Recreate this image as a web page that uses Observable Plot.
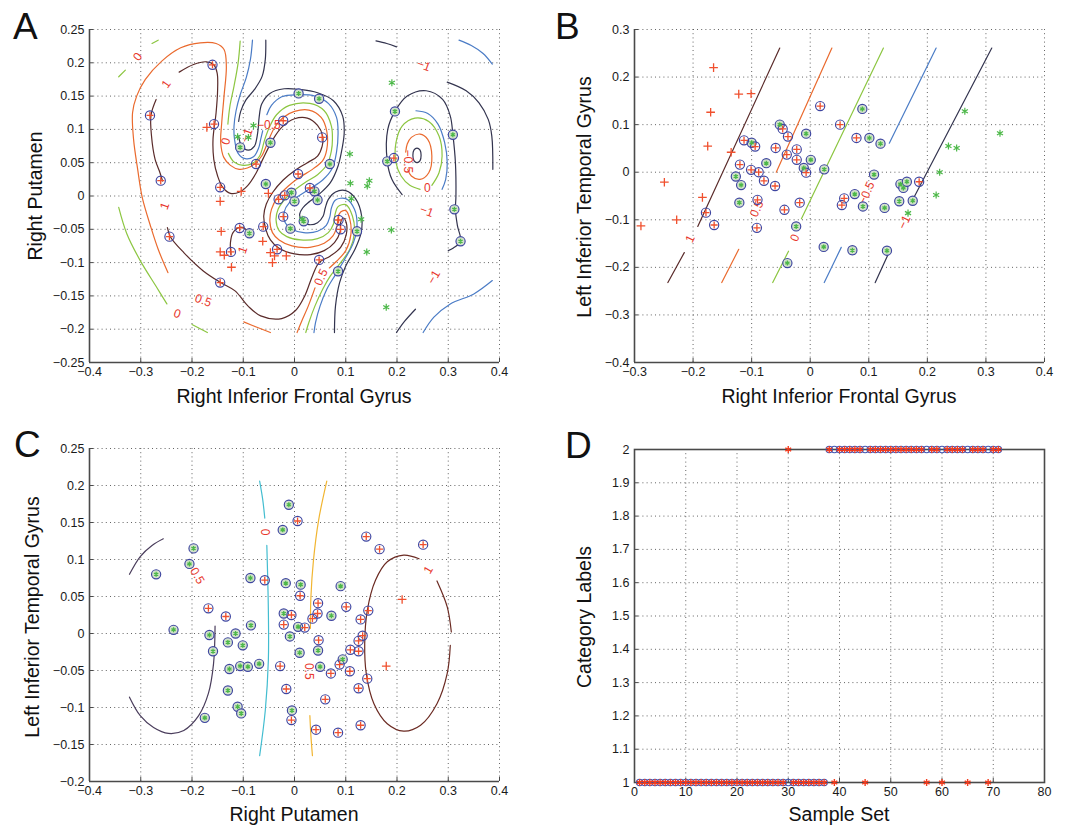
<!DOCTYPE html>
<html><head><meta charset="utf-8">
<script src="https://cdn.jsdelivr.net/npm/d3@7"></script>
<script src="https://cdn.jsdelivr.net/npm/@observablehq/plot@0.6"></script>
<style>
body{margin:0;background:#fff;}
#wrap{position:relative;width:1079px;height:826px;background:#fff;overflow:hidden;font-family:"Liberation Sans",Arial,Helvetica,sans-serif;color:#111;}
.panel{position:absolute;}
.letter{position:absolute;font-size:37px;line-height:1;}
.title{position:absolute;font-size:19.5px;line-height:1;white-space:nowrap;transform:translate(-50%,-50%);}
.ytitle{position:absolute;font-size:19.5px;line-height:1;white-space:nowrap;transform:translate(-50%,-50%) rotate(-90deg);}
</style></head>
<body><div id="wrap"></div>
<script>
// ---------- Colours ----------
const COL = {brown:"#5a2b2a", orange:"#ea6a2e", green:"#8cc641", blue:"#4b7cc6", navy:"#33344f",
  cyan:"#43bdd0", gold:"#f1b531", purple:"#4a3d5c", label:"#e8372c", plus:"#f0502e", star:"#4cb848", ring:"#3e45a0"};

// ---------- Panel A data ----------
const aXTicks = [-0.4,-0.3,-0.2,-0.1,0,0.1,0.2,0.3,0.4];
const aYTicks = [-0.25,-0.2,-0.15,-0.1,-0.05,0,0.05,0.1,0.15,0.2,0.25];
const aSvRed = [[-0.160,0.197],[-0.282,0.121],[-0.261,0.023],[-0.157,0.108],[-0.145,0.013],[-0.075,0.048],[-0.022,0.113],[0.054,0.088],[0.007,0.033],[-0.019,0.001],[-0.031,-0.005],[0.030,0.012],[-0.022,-0.031],[0.086,-0.036],[0.090,-0.050],[-0.061,-0.046],[-0.107,-0.048],[-0.124,-0.084],[-0.034,-0.080],[0.048,-0.096],[-0.145,-0.130],[-0.244,-0.061],[0.194,0.057]];
const aSvGreen = [[-0.106,0.073],[-0.047,0.080],[0.008,0.154],[0.048,0.146],[0.069,0.048],[-0.056,0.018],[-0.006,0.005],[0.000,-0.008],[0.039,0.007],[0.045,-0.006],[-0.008,-0.049],[0.018,-0.038],[0.122,-0.053],[-0.088,-0.056],[0.085,-0.113],[0.196,0.127],[0.181,0.052],[0.309,0.092],[0.312,-0.020],[0.324,-0.068]];
const aRed = [[-0.171,0.103],[-0.145,-0.008],[-0.104,0.007],[-0.051,0.004],[-0.143,-0.053],[-0.145,-0.084],[-0.137,-0.089],[-0.123,-0.107],[-0.062,-0.068],[-0.047,-0.085],[-0.039,-0.090],[-0.043,-0.100],[-0.016,-0.090]];
const aGreen = [[-0.080,0.106],[-0.111,0.089],[-0.090,0.088],[0.108,0.063],[0.109,0.019],[0.146,0.023],[0.142,0.015],[0.111,-0.004],[0.130,-0.035],[0.189,-0.051],[0.141,-0.084],[0.190,0.170],[0.179,-0.167],[0.015,-0.035]];

// contour lines of panel A (data coordinates)
const aBrownLeftArm = [[-0.270,0.145],[-0.280,0.1215],[-0.279,0.090],[-0.272,0.055],[-0.2625,0.035],[-0.2575,0.0225]];
const aBrownMain = [[-0.225,0.186],[-0.197,0.1975],[-0.172,0.2015],[-0.158,0.1975],[-0.151,0.185],[-0.150,0.160],[-0.153,0.125],[-0.159,0.085],[-0.1575,0.055],[-0.150,0.030],[-0.140,0.013],[-0.125,0.004],[-0.107,0.006],[-0.091,0.016],[-0.076,0.033],[-0.062,0.055],[-0.042,0.085],[-0.025,0.103],[0.000,0.116],[0.025,0.117],[0.045,0.106],[0.055,0.090],[0.054,0.075],[0.045,0.060],[0.025,0.050],[0.000,0.038],[-0.022,0.024],[-0.042,0.006],[-0.055,-0.012],[-0.060,-0.030],[-0.056,-0.050],[-0.047,-0.066],[-0.031,-0.078],[0.000,-0.087],[0.031,-0.088],[0.058,-0.082],[0.078,-0.070],[0.089,-0.054],[0.090,-0.040],[0.095,-0.033],[0.101,-0.040],[0.101,-0.058],[0.090,-0.077],[0.070,-0.090],[0.048,-0.100],[0.035,-0.120],[0.020,-0.150],[0.002,-0.172],[-0.025,-0.184],[-0.066,-0.180],[-0.091,-0.165],[-0.116,-0.1425],[-0.144,-0.130],[-0.178,-0.1125],[-0.216,-0.085],[-0.242,-0.0615],[-0.248,-0.0475]];
const aBrownSmall = [[-0.124,-0.088],[-0.125,-0.070],[-0.120,-0.055],[-0.107,-0.047],[-0.095,-0.050],[-0.087,-0.058]];
const aOrangeMain = [[-0.247,-0.115],[-0.266,-0.080],[-0.281,-0.045],[-0.297,-0.0025],[-0.306,0.040],[-0.314,0.085],[-0.316,0.125],[-0.308,0.150],[-0.291,0.175],[-0.259,0.2025],[-0.222,0.2225],[-0.184,0.230],[-0.153,0.229],[-0.1375,0.220],[-0.133,0.195],[-0.1375,0.150],[-0.142,0.110],[-0.144,0.080],[-0.138,0.058],[-0.125,0.046],[-0.108,0.040],[-0.092,0.042],[-0.078,0.048],[-0.064,0.060],[-0.050,0.085],[-0.038,0.104],[-0.022,0.118],[0.000,0.127],[0.028,0.129],[0.052,0.118],[0.063,0.097],[0.063,0.070],[0.055,0.053],[0.035,0.040],[0.010,0.028],[-0.012,0.015],[-0.032,-0.001],[-0.045,-0.020],[-0.048,-0.038],[-0.043,-0.055],[-0.030,-0.066],[-0.005,-0.075],[0.030,-0.077],[0.058,-0.071],[0.075,-0.060],[0.083,-0.045],[0.085,-0.032],[0.090,-0.024],[0.100,-0.022],[0.108,-0.035],[0.110,-0.058],[0.100,-0.082],[0.082,-0.098],[0.068,-0.108]];
const aOrangeTail = [[0.040,-0.138],[0.027,-0.165],[0.014,-0.188],[0.005,-0.205]];
const aOrangeBottom = [[-0.047,-0.205],[-0.072,-0.1975],[-0.099,-0.189]];
const aGreenTop = [[-0.106,0.2325],[-0.110,0.200],[-0.118,0.165],[-0.126,0.135],[-0.130,0.108]];
const aGreenMain = [[-0.129,0.064],[-0.118,0.051],[-0.100,0.046],[-0.082,0.049],[-0.068,0.060],[-0.058,0.085],[-0.048,0.105],[-0.035,0.122],[-0.010,0.136],[0.030,0.139],[0.058,0.128],[0.072,0.105],[0.074,0.085],[0.072,0.068],[0.064,0.048],[0.045,0.032],[0.020,0.020],[-0.003,0.007],[-0.020,-0.006],[-0.032,-0.020],[-0.036,-0.036],[-0.030,-0.052],[-0.015,-0.061],[0.012,-0.066],[0.045,-0.064],[0.066,-0.055],[0.076,-0.042],[0.079,-0.028],[0.085,-0.016],[0.100,-0.013],[0.113,-0.030],[0.117,-0.055],[0.108,-0.080],[0.090,-0.100],[0.070,-0.120],[0.055,-0.140],[0.040,-0.165],[0.028,-0.190],[0.022,-0.205]];
const aGreenLowLeft = [[-0.343,-0.017],[-0.327,-0.057],[-0.301,-0.097],[-0.269,-0.137],[-0.249,-0.162]];
const aGreenLowLeft2 = [[-0.200,-0.193],[-0.170,-0.205]];
const aGreenTopLeft1 = [[-0.343,0.179],[-0.330,0.189]];
const aGreenTopLeft2 = [[-0.278,0.229],[-0.266,0.234]];
const aBlueTop = [[-0.082,0.234],[-0.086,0.205],[-0.094,0.178],[-0.106,0.152],[-0.114,0.128],[-0.118,0.105],[-0.117,0.085],[-0.110,0.064],[-0.096,0.056],[-0.080,0.059],[-0.070,0.072],[-0.066,0.085],[-0.062,0.098]];
const aBlueMain = [[-0.054,0.122],[-0.045,0.136],[-0.025,0.149],[0.005,0.152],[0.040,0.150],[0.066,0.139],[0.082,0.118],[0.085,0.095],[0.082,0.066],[0.074,0.042],[0.055,0.024],[0.030,0.011],[0.008,0.000],[-0.010,-0.010],[-0.020,-0.024],[-0.018,-0.040],[-0.005,-0.050],[0.018,-0.055],[0.045,-0.053],[0.062,-0.044],[0.069,-0.031],[0.072,-0.018],[0.080,-0.006],[0.100,-0.004],[0.117,-0.020],[0.122,-0.045],[0.115,-0.070],[0.098,-0.095],[0.080,-0.118],[0.063,-0.140],[0.050,-0.165],[0.041,-0.190],[0.038,-0.205]];
const aNavyTop = [[-0.056,0.234],[-0.057,0.205],[-0.063,0.180],[-0.078,0.160],[-0.095,0.144],[-0.105,0.127],[-0.109,0.112]];
const aNavyMain = [[-0.109,0.090],[-0.103,0.075],[-0.090,0.069],[-0.078,0.075],[-0.074,0.085],[-0.071,0.100],[-0.069,0.118],[-0.064,0.138],[-0.048,0.154],[-0.020,0.161],[0.010,0.160],[0.045,0.155],[0.076,0.143],[0.094,0.120],[0.097,0.095],[0.093,0.072],[0.085,0.045],[0.070,0.020],[0.050,0.004],[0.030,-0.008],[0.016,-0.018],[0.010,-0.028],[0.015,-0.038],[0.028,-0.043],[0.045,-0.040],[0.056,-0.030],[0.060,-0.018],[0.066,-0.005],[0.080,0.006],[0.100,0.008],[0.120,-0.005],[0.131,-0.030],[0.130,-0.055],[0.118,-0.080],[0.100,-0.105],[0.088,-0.130],[0.080,-0.165],[0.078,-0.205]];
const aRightCore = [[0.239,0.072],[0.245,0.069],[0.247,0.061],[0.245,0.053],[0.239,0.050],[0.233,0.053],[0.231,0.061],[0.233,0.069]];
const aRightOrange = [[0.221,0.040],[0.228,0.030],[0.245,0.025],[0.262,0.035],[0.268,0.060],[0.260,0.085],[0.245,0.093],[0.228,0.088],[0.220,0.078],[0.217,0.066]];
const aRightGreen = [[0.268,0.016],[0.282,0.035],[0.288,0.060],[0.282,0.090],[0.262,0.112],[0.235,0.117],[0.210,0.105],[0.198,0.080],[0.198,0.050],[0.208,0.030],[0.225,0.016],[0.245,0.010]];
const aRightBlue = [[0.237,0.128],[0.260,0.124],[0.280,0.108],[0.293,0.080],[0.298,0.050],[0.295,0.025],[0.288,0.010]];
const aRightNavy = [[0.210,0.002],[0.190,0.025],[0.181,0.052],[0.182,0.100],[0.196,0.127],[0.220,0.150],[0.257,0.158],[0.289,0.145],[0.304,0.120],[0.309,0.0925],[0.314,0.050],[0.315,0.000],[0.314,-0.021],[0.318,-0.045],[0.324,-0.068],[0.310,-0.078],[0.300,-0.082]];
const aTopDark = [[0.159,0.233],[0.180,0.229],[0.199,0.224]];
const aEdgeDark = [[0.298,0.171],[0.335,0.158],[0.360,0.140],[0.378,0.115],[0.385,0.090],[0.387,0.040]];
const aTopRightBlue = [[0.321,0.234],[0.345,0.226],[0.368,0.214],[0.386,0.198]];
const aBottomDark = [[0.199,-0.205],[0.215,-0.188],[0.236,-0.170]];
const aBottomBlue = [[0.251,-0.205],[0.272,-0.182],[0.304,-0.162],[0.350,-0.147],[0.386,-0.127]];
const aLabels = [["0",-0.306,0.209,-55],["1",-0.250,0.168,-55],["0",-0.134,0.082,-75],["−1",-0.093,0.091,-70],["−0.5",-0.050,0.107,0],["1",-0.253,-0.015,-70],["1",-0.101,-0.081,-70],["0.5",-0.178,-0.157,20],["0",-0.229,-0.177,20],["0.5",0.052,-0.122,-65],["−0.5",0.222,0.052,90],["0",0.259,0.012,0],["−1",0.258,-0.023,20],["−1",0.272,-0.122,-60],["−1",0.252,0.196,20]];

// ---------- Panel B data ----------
const bXTicks = [-0.3,-0.2,-0.1,0,0.1,0.2,0.3,0.4];
const bYTicks = [-0.4,-0.3,-0.2,-0.1,0,0.1,0.2,0.3];
const bSvRed = [[0.017,0.139],[0.051,0.100],[0.079,0.072],[-0.047,0.091],[-0.038,0.075],[-0.113,0.067],[-0.094,0.054],[-0.059,0.051],[-0.040,0.037],[-0.023,0.048],[-0.023,0.026],[-0.007,-0.001],[-0.120,0.016],[-0.101,0.005],[-0.088,0.000],[-0.079,-0.018],[-0.060,-0.029],[-0.090,-0.058],[-0.018,-0.064],[-0.044,-0.079],[-0.091,-0.117],[-0.178,-0.085],[-0.164,-0.111],[0.058,-0.055],[0.054,-0.069],[0.186,-0.020]];
const bSvGreen = [[-0.052,0.100],[-0.100,0.062],[-0.007,0.081],[0.001,0.026],[-0.011,0.009],[-0.075,0.019],[-0.127,-0.009],[-0.118,-0.027],[-0.121,-0.064],[-0.024,-0.114],[0.024,0.006],[0.089,0.133],[0.101,0.072],[0.120,0.060],[0.109,-0.005],[0.076,-0.046],[0.090,-0.072],[0.127,-0.075],[0.154,-0.025],[0.159,-0.033],[0.165,-0.020],[0.152,-0.061],[0.175,-0.060],[0.023,-0.157],[0.072,-0.164],[0.131,-0.165],[-0.039,-0.191]];
const bRed = [[-0.165,0.220],[-0.122,0.164],[-0.101,0.165],[-0.170,0.126],[-0.175,0.055],[-0.135,0.042],[-0.184,-0.053],[-0.249,-0.021],[-0.228,-0.100],[-0.289,-0.113]];
const bGreen = [[0.264,0.128],[0.324,0.082],[0.236,0.055],[0.250,0.051],[0.221,0.000],[0.215,-0.048],[0.167,-0.086]];
const bBrown1 = [[-0.192,-0.114],[-0.052,0.261]], bBrown2 = [[-0.243,-0.232],[-0.215,-0.169]];
const bOrange1 = [[-0.058,0.000],[0.037,0.261]], bOrange2 = [[-0.151,-0.232],[-0.122,-0.162]];
const bGreen1 = [[-0.015,-0.098],[0.125,0.261]], bGreen2 = [[-0.064,-0.232],[-0.037,-0.166]];
const bBlue1 = [[0.135,0.061],[0.215,0.261]], bBlue2 = [[0.024,-0.232],[0.053,-0.158]];
const bNavy1 = [[0.175,-0.058],[0.310,0.261]], bNavy2 = [[0.111,-0.232],[0.137,-0.162]];
const bLabels = [["1",-0.205,-0.140,-65],["0.5",-0.091,-0.077,-65],["0",-0.026,-0.138,-65],["−0.5",0.096,-0.044,-65],["−1",0.161,-0.105,-65]];

// ---------- Panel C data ----------
const cXTicks = [-0.4,-0.3,-0.2,-0.1,0,0.1,0.2,0.3,0.4];
const cYTicks = [-0.2,-0.15,-0.1,-0.05,0,0.05,0.1,0.15,0.2,0.25];
const cSvGreen = [[-0.011,0.174],[-0.023,0.140],[-0.197,0.115],[-0.205,0.094],[-0.270,0.080],[-0.086,0.075],[-0.017,0.068],[0.012,0.066],[0.090,0.064],[-0.236,0.005],[-0.021,0.027],[0.072,0.024],[-0.085,0.011],[0.007,0.009],[-0.166,-0.002],[-0.115,0.000],[-0.009,-0.004],[-0.159,-0.024],[-0.130,-0.012],[-0.101,-0.016],[0.010,-0.026],[0.046,-0.023],[-0.127,-0.048],[-0.106,-0.044],[-0.091,-0.045],[-0.069,-0.041],[0.050,-0.045],[0.094,-0.035],[-0.130,-0.077],[-0.111,-0.099],[-0.104,-0.108],[-0.175,-0.114],[-0.005,-0.104]];
const cSvRed = [[0.006,0.152],[0.140,0.131],[0.166,0.114],[0.251,0.120],[-0.058,0.072],[0.011,0.051],[-0.168,0.034],[-0.134,0.023],[0.046,0.041],[0.045,0.027],[0.035,0.020],[-0.006,0.025],[-0.021,0.012],[0.020,0.008],[0.101,0.036],[0.129,0.019],[0.144,0.031],[0.133,-0.003],[0.125,-0.010],[0.047,-0.009],[0.109,-0.022],[0.125,-0.024],[-0.028,-0.044],[0.071,-0.054],[0.088,-0.042],[0.108,-0.051],[0.142,-0.061],[-0.016,-0.075],[0.125,-0.074],[0.060,-0.089],[-0.006,-0.117],[0.042,-0.130],[0.085,-0.134],[0.129,-0.124]];
const cRed = [[0.210,0.046],[0.179,-0.044]];
const cGreen = [];
const cPurpleTop = [[-0.322,0.080],[-0.301,0.104],[-0.278,0.119],[-0.256,0.128]];
const cPurpleBottom = [[-0.322,-0.086],[-0.301,-0.111],[-0.275,-0.127],[-0.246,-0.135],[-0.216,-0.131],[-0.187,-0.111],[-0.168,-0.081],[-0.158,-0.041],[-0.155,0.010]];
const cCyanTop = [[-0.068,0.206],[-0.062,0.181],[-0.058,0.156]];
const cCyanBottom = [[-0.054,0.119],[-0.051,0.031],[-0.051,-0.036],[-0.057,-0.104],[-0.068,-0.165]];
const cGoldTop = [[0.063,0.206],[0.047,0.153],[0.037,0.099],[0.032,0.049],[0.031,0.007]];
const cGoldBottom = [[0.030,-0.111],[0.032,-0.138],[0.035,-0.165]];
const cBrown1 = [[0.278,0.071],[0.298,0.036],[0.306,0.002]];
const cBrown2 = [[0.304,-0.016],[0.298,-0.054],[0.278,-0.095],[0.246,-0.124],[0.213,-0.132],[0.181,-0.122],[0.155,-0.095],[0.140,-0.054],[0.137,-0.014],[0.142,0.031],[0.158,0.072],[0.181,0.097],[0.213,0.106],[0.243,0.101]];
const cLabels = [["0",-0.057,0.137,90],["−0.5",-0.193,0.082,60],["0.5",0.028,-0.051,90],["1",0.261,0.086,-60]];

// ---------- Panel D data ----------
const dXTicks = [0,10,20,30,40,50,60,70,80];
const dYTicks = [1,1.1,1.2,1.3,1.4,1.5,1.6,1.7,1.8,1.9,2];
const dTrue = [1,1,1,1,1,1,1,1,1,1, 1,1,1,1,1,1,1,1,1,1, 1,1,1,1,1,1,1,1,1,1, 1,1,1,1,1,1,1,2,2,2, 2,2,2,2,2,2,2,2,2,2, 2,2,2,2,2,2,2,2,2,2, 2,2,2,2,2,2,2,2,2,2, 2];
const dPred = [1,1,1,1,1,1,1,1,1,1, 1,1,1,1,1,1,1,1,1,1, 1,1,1,1,1,1,1,1,1,2, 1,1,1,1,1,1,1,2,1,2, 2,2,2,2,1,2,2,2,2,2, 2,2,2,2,2,2,1,2,2,1, 2,2,2,2,1,2,2,2,1,2, 2];

// ---------- helpers ----------
const fmt = d3.format("~g");
const P = d => d[0], Q = d => d[1];
function ln(pts, color, closed) {
  return Plot.line(pts, {x: P, y: Q, stroke: color, strokeWidth: 1.2, curve: closed ? "catmull-rom-closed" : "catmull-rom"});
}
function panel(cfg) {
  const [x0, x1] = cfg.xDomain, [y0, y1] = cfg.yDomain;
  const axisCol = "#4a4a4a";
  const marks = [
    Plot.ruleX(cfg.xTicks, {stroke: "#333", strokeWidth: 0.9, strokeDasharray: "1,3.2", strokeOpacity: 0.85}),
    Plot.ruleY(cfg.yTicks, {stroke: "#333", strokeWidth: 0.9, strokeDasharray: "1,3.2", strokeOpacity: 0.85}),
    Plot.ruleX(cfg.xTicks, {y1: y0, y2: y0 + (y1 - y0) * 0.012, stroke: axisCol}),
    Plot.ruleY(cfg.yTicks, {x1: x0, x2: x0 + (x1 - x0) * 0.01, stroke: axisCol}),
  ];
  if (cfg.box) marks.push(Plot.frame({stroke: axisCol, strokeWidth: 1.6}));
  else marks.push(Plot.ruleX([x0], {stroke: axisCol, strokeWidth: 1.6}), Plot.ruleY([y0], {stroke: axisCol, strokeWidth: 1.6}));
  for (const l of (cfg.lines || [])) marks.push(ln(l[0], l[1], l[2]));
  if (cfg.labels) marks.push(Plot.text(cfg.labels, {x: d => d[1], y: d => d[2], text: d => d[0], rotate: d => d[3], fill: COL.label, fontSize: 12}));
  marks.push(...(cfg.extra || []));
  marks.push(
    Plot.axisX(cfg.xTicks, {tickFormat: fmt, tickSize: 0, tickPadding: 5, label: null, fontSize: 12.5}),
    Plot.axisY(cfg.yTicks, {tickFormat: fmt, tickSize: 0, tickPadding: 5, label: null, fontSize: 12.5})
  );
  return Plot.plot({
    width: cfg.width, height: cfg.height,
    marginLeft: cfg.m[0], marginRight: cfg.m[1], marginTop: cfg.m[2], marginBottom: cfg.m[3],
    x: {domain: cfg.xDomain}, y: {domain: cfg.yDomain},
    style: {fontFamily: "Liberation Sans, Arial, sans-serif", fontSize: "12px", background: "transparent", color: "#1a1a1a", overflow: "visible"},
    marks
  });
}
function scatter(svRed, svGreen, red, green) {
  return [
    Plot.dot(svGreen, {x: P, y: Q, r: 4.6, stroke: COL.ring, strokeWidth: 1.15, fill: "#d3e2cc"}),
    Plot.dot(svRed, {x: P, y: Q, r: 4.6, stroke: COL.ring, strokeWidth: 1.15, fill: "none"}),
    Plot.dot(svRed, {x: P, y: Q, symbol: "plus", r: 2.4, stroke: COL.plus, strokeWidth: 1.3}),
    Plot.dot(svGreen, {x: P, y: Q, symbol: "asterisk", r: 2.3, stroke: COL.star, strokeWidth: 1.3}),
    Plot.dot(red, {x: P, y: Q, symbol: "plus", r: 2.9, stroke: COL.plus, strokeWidth: 1.3}),
    Plot.dot(green, {x: P, y: Q, symbol: "asterisk", r: 3.3, stroke: COL.star, strokeWidth: 1.2})
  ];
}

const wrap = document.getElementById("wrap");
function place(node, left, top) { const d = document.createElement("div"); d.className = "panel"; d.style.left = left + "px"; d.style.top = top + "px"; d.appendChild(node); wrap.appendChild(d); }
function txt(cls, s, left, top) { const d = document.createElement("div"); d.className = cls; d.textContent = s; d.style.left = left + "px"; d.style.top = top + "px"; wrap.appendChild(d); }

// ---------- Panel A ----------
place(panel({
  width: 540, height: 410, m: [89, 41, 29, 48], xDomain: [-0.4, 0.4], yDomain: [-0.25, 0.25], xTicks: aXTicks, yTicks: aYTicks,
  lines: [
    [aGreenTopLeft1, COL.green], [aGreenTopLeft2, COL.green], [aGreenLowLeft, COL.green], [aGreenLowLeft2, COL.green],
    [aGreenTop, COL.green], [aGreenMain, COL.green],
    [aOrangeMain, COL.orange], [aOrangeTail, COL.orange], [aOrangeBottom, COL.orange],
    [aBlueTop, COL.blue], [aBlueMain, COL.blue],
    [aNavyTop, COL.navy], [aNavyMain, COL.navy],
    [aBrownLeftArm, COL.brown], [aBrownMain, COL.brown], [aBrownSmall, COL.brown],
    [aRightCore, COL.navy, true], [aRightOrange, COL.orange], [aRightGreen, COL.green], [aRightBlue, COL.blue], [aRightNavy, COL.navy],
    [aTopDark, COL.navy], [aEdgeDark, COL.navy], [aTopRightBlue, COL.blue], [aBottomDark, COL.navy], [aBottomBlue, COL.blue]
  ],
  labels: aLabels,
  extra: scatter(aSvRed, aSvGreen, aRed, aGreen)
}), 0, 0);

// ---------- Panel B ----------
place(panel({
  width: 539, height: 410, m: [94, 35, 29, 48], xDomain: [-0.3, 0.4], yDomain: [-0.4, 0.3], xTicks: bXTicks, yTicks: bYTicks,
  lines: [[bBrown1, COL.brown], [bBrown2, COL.brown], [bOrange1, COL.orange], [bOrange2, COL.orange], [bGreen1, COL.green], [bGreen2, COL.green], [bBlue1, COL.blue], [bBlue2, COL.blue], [bNavy1, COL.navy], [bNavy2, COL.navy]],
  labels: bLabels,
  extra: scatter(bSvRed, bSvGreen, bRed, bGreen)
}), 540, 0);

// ---------- Panel C ----------
place(panel({
  width: 540, height: 416, m: [89, 41, 38, 45], xDomain: [-0.4, 0.4], yDomain: [-0.2, 0.25], xTicks: cXTicks, yTicks: cYTicks,
  lines: [[cPurpleTop, COL.purple], [cPurpleBottom, COL.purple], [cCyanTop, COL.cyan], [cCyanBottom, COL.cyan], [cGoldTop, COL.gold], [cGoldBottom, COL.gold], [cBrown1, "#6b2a22"], [cBrown2, "#6b2a22"]],
  labels: cLabels,
  extra: scatter(cSvRed, cSvGreen, cRed, cGreen)
}), 0, 410);

// ---------- Panel D ----------
place(panel({
  width: 539, height: 416, m: [94, 35, 39, 44], xDomain: [0, 80], yDomain: [1, 2], xTicks: dXTicks, yTicks: dYTicks, box: true,
  extra: [
    Plot.dot(dTrue, {x: (d, i) => i + 1, y: d => d, r: 3.2, stroke: "#3f55b3", strokeWidth: 1.1, fill: "none"}),
    Plot.dot(dPred, {x: (d, i) => i + 1, y: d => d, symbol: "asterisk", r: 3.2, stroke: "#f23c1f", strokeWidth: 1.4})
  ]
}), 540, 410);

// ---------- Text ----------
txt("letter", "A", 13, 8); txt("letter", "B", 555, 8); txt("letter", "C", 14, 426); txt("letter", "D", 565, 427);
txt("title", "Right Inferior Frontal Gyrus", 294, 397);
txt("ytitle", "Right Putamen", 36, 196);
txt("title", "Right Inferior Frontal Gyrus", 839, 397);
txt("ytitle", "Left Inferior Temporal Gyrus", 585, 197);
txt("title", "Right Putamen", 294, 815);
txt("ytitle", "Left Inferior Temporal Gyrus", 33, 617);
txt("title", "Sample Set", 839, 815);
txt("ytitle", "Category Labels", 585, 617);
</script></body></html>
